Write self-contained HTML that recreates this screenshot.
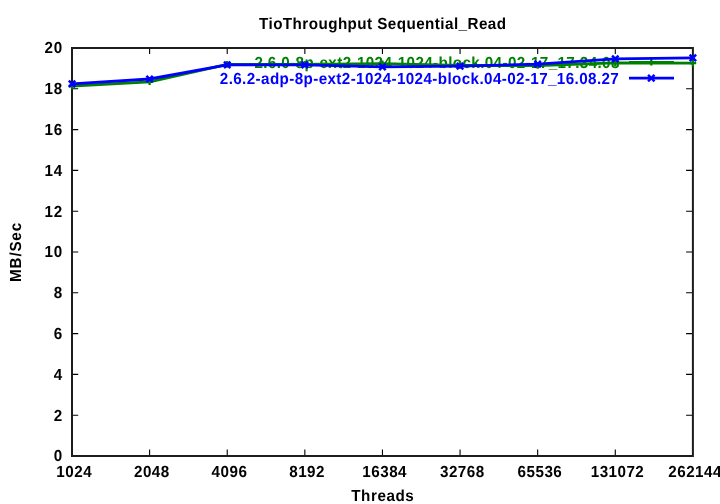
<!DOCTYPE html>
<html><head><meta charset="utf-8"><title>TioThroughput Sequential_Read</title>
<style>
html,body{margin:0;padding:0;background:#fff;width:720px;height:504px;overflow:hidden}
svg{display:block;will-change:transform}
text{font-family:"Liberation Sans",Arial,sans-serif;font-weight:bold;font-size:16px;text-rendering:geometricPrecision;fill:#000}
</style></head>
<body>
<svg width="720" height="504" viewBox="0 0 720 504">
<rect width="720" height="504" fill="#fff"/>
<path d="M149.61 456V449.5M149.61 48V54M227.22 456V449.5M227.22 48V54M304.84 456V449.5M304.84 48V54M382.45 456V449.5M382.45 48V54M460.06 456V449.5M460.06 48V54M537.67 456V449.5M537.67 48V54M615.29 456V449.5M615.29 48V54M72 415.20H78.2M692.9 415.20H686.1M72 374.40H78.2M692.9 374.40H686.1M72 333.60H78.2M692.9 333.60H686.1M72 292.80H78.2M692.9 292.80H686.1M72 252.00H78.2M692.9 252.00H686.1M72 211.20H78.2M692.9 211.20H686.1M72 170.40H78.2M692.9 170.40H686.1M72 129.60H78.2M692.9 129.60H686.1M72 88.80H78.2M692.9 88.80H686.1" stroke="#000" stroke-width="1.1" fill="none"/>
<rect x="72" y="48" width="620.90" height="408" fill="none" stroke="#1c1c1c" stroke-width="2"/>
<text transform="translate(62.30 460.90) scale(0.95 1)" text-anchor="end" textLength="9.37" lengthAdjust="spacing">0</text>
<text transform="translate(62.30 420.90) scale(0.95 1)" text-anchor="end" textLength="9.37" lengthAdjust="spacing">2</text>
<text transform="translate(62.30 379.90) scale(0.95 1)" text-anchor="end" textLength="9.37" lengthAdjust="spacing">4</text>
<text transform="translate(62.30 338.90) scale(0.95 1)" text-anchor="end" textLength="9.37" lengthAdjust="spacing">6</text>
<text transform="translate(62.30 298.00) scale(0.95 1)" text-anchor="end" textLength="9.37" lengthAdjust="spacing">8</text>
<text transform="translate(62.30 257.00) scale(0.95 1)" text-anchor="end" textLength="18.74" lengthAdjust="spacing">10</text>
<text transform="translate(62.30 216.80) scale(0.95 1)" text-anchor="end" textLength="18.74" lengthAdjust="spacing">12</text>
<text transform="translate(62.30 175.80) scale(0.95 1)" text-anchor="end" textLength="18.74" lengthAdjust="spacing">14</text>
<text transform="translate(62.30 135.00) scale(0.95 1)" text-anchor="end" textLength="18.74" lengthAdjust="spacing">16</text>
<text transform="translate(62.30 94.00) scale(0.95 1)" text-anchor="end" textLength="18.74" lengthAdjust="spacing">18</text>
<text transform="translate(62.30 52.90) scale(0.95 1)" text-anchor="end" textLength="18.74" lengthAdjust="spacing">20</text>
<text transform="translate(74.00 476.70) scale(0.95 1)" text-anchor="middle" textLength="37.26" lengthAdjust="spacing">1024</text>
<text transform="translate(151.61 476.70) scale(0.95 1)" text-anchor="middle" textLength="37.26" lengthAdjust="spacing">2048</text>
<text transform="translate(229.22 476.70) scale(0.95 1)" text-anchor="middle" textLength="37.26" lengthAdjust="spacing">4096</text>
<text transform="translate(306.84 476.70) scale(0.95 1)" text-anchor="middle" textLength="37.26" lengthAdjust="spacing">8192</text>
<text transform="translate(384.45 476.70) scale(0.95 1)" text-anchor="middle" textLength="46.58" lengthAdjust="spacing">16384</text>
<text transform="translate(462.06 476.70) scale(0.95 1)" text-anchor="middle" textLength="46.58" lengthAdjust="spacing">32768</text>
<text transform="translate(539.67 476.70) scale(0.95 1)" text-anchor="middle" textLength="46.58" lengthAdjust="spacing">65536</text>
<text transform="translate(617.29 476.70) scale(0.95 1)" text-anchor="middle" textLength="55.89" lengthAdjust="spacing">131072</text>
<text transform="translate(694.90 476.70) scale(0.95 1)" text-anchor="middle" textLength="55.89" lengthAdjust="spacing">262144</text>
<text transform="translate(382.50 28.80) scale(0.95 1)" text-anchor="middle" textLength="260.00" lengthAdjust="spacing">TioThroughput Sequential_Read</text>
<text transform="translate(382.50 501.00) scale(0.95 1)" text-anchor="middle" textLength="65.89" lengthAdjust="spacing">Threads</text>
<text transform="translate(21.40 252.40) rotate(-90) scale(0.95 1)" text-anchor="middle" textLength="62.11" lengthAdjust="spacing">MB/Sec</text>
<text transform="translate(619.40 67.80) scale(0.95 1)" text-anchor="end" textLength="384.21" lengthAdjust="spacing" style="fill:#008000">2.6.0-8p-ext2-1024-1024-block.04-02-17_17.34.08</text>
<path d="M629 62.3H674" stroke="#008000" stroke-width="2.8"/>
<path d="M648.00 62.30L654.60 62.30M651.30 59.00L651.30 65.60" stroke="#008000" stroke-width="2.3" fill="none"/>
<polyline points="72.00,86.00 149.61,81.80 227.22,64.40 304.84,64.30 382.45,63.70 460.06,65.50 537.67,65.50 615.29,62.90 692.90,63.20" stroke="#008000" stroke-width="2.8" fill="none" stroke-linejoin="round"/>
<path d="M68.70 86.00L75.30 86.00M72.00 82.70L72.00 89.30" stroke="#008000" stroke-width="2.3" fill="none"/>
<path d="M146.31 81.80L152.91 81.80M149.61 78.50L149.61 85.10" stroke="#008000" stroke-width="2.3" fill="none"/>
<path d="M223.92 64.40L230.53 64.40M227.22 61.10L227.22 67.70" stroke="#008000" stroke-width="2.3" fill="none"/>
<path d="M301.54 64.30L308.14 64.30M304.84 61.00L304.84 67.60" stroke="#008000" stroke-width="2.3" fill="none"/>
<path d="M379.15 63.70L385.75 63.70M382.45 60.40L382.45 67.00" stroke="#008000" stroke-width="2.3" fill="none"/>
<path d="M456.76 65.50L463.36 65.50M460.06 62.20L460.06 68.80" stroke="#008000" stroke-width="2.3" fill="none"/>
<path d="M534.38 65.50L540.97 65.50M537.67 62.20L537.67 68.80" stroke="#008000" stroke-width="2.3" fill="none"/>
<path d="M611.99 62.90L618.59 62.90M615.29 59.60L615.29 66.20" stroke="#008000" stroke-width="2.3" fill="none"/>
<path d="M689.60 63.20L696.20 63.20M692.90 59.90L692.90 66.50" stroke="#008000" stroke-width="2.3" fill="none"/>
<text transform="translate(618.80 83.70) scale(0.95 1)" text-anchor="end" textLength="420.00" lengthAdjust="spacing" style="fill:#0000ff">2.6.2-adp-8p-ext2-1024-1024-block.04-02-17_16.08.27</text>
<path d="M629 78.2H674" stroke="#0000ff" stroke-width="2.8"/>
<path d="M648.10 74.90L654.50 81.30M648.10 81.30L654.50 74.90" stroke="#0000ff" stroke-width="2.5" fill="none"/>
<polyline points="72.00,83.80 149.61,79.00 227.22,64.80 304.84,64.95 382.45,66.90 460.06,66.10 537.67,64.20 615.29,58.90 692.90,57.90" stroke="#0000ff" stroke-width="2.8" fill="none" stroke-linejoin="round"/>
<path d="M68.80 80.60L75.20 87.00M68.80 87.00L75.20 80.60" stroke="#0000ff" stroke-width="2.5" fill="none"/>
<path d="M146.41 75.80L152.81 82.20M146.41 82.20L152.81 75.80" stroke="#0000ff" stroke-width="2.5" fill="none"/>
<path d="M224.03 61.60L230.42 68.00M224.03 68.00L230.42 61.60" stroke="#0000ff" stroke-width="2.5" fill="none"/>
<path d="M301.64 61.75L308.04 68.15M301.64 68.15L308.04 61.75" stroke="#0000ff" stroke-width="2.5" fill="none"/>
<path d="M379.25 63.70L385.65 70.10M379.25 70.10L385.65 63.70" stroke="#0000ff" stroke-width="2.5" fill="none"/>
<path d="M456.86 62.90L463.26 69.30M456.86 69.30L463.26 62.90" stroke="#0000ff" stroke-width="2.5" fill="none"/>
<path d="M534.47 61.00L540.88 67.40M534.47 67.40L540.88 61.00" stroke="#0000ff" stroke-width="2.5" fill="none"/>
<path d="M612.09 55.70L618.49 62.10M612.09 62.10L618.49 55.70" stroke="#0000ff" stroke-width="2.5" fill="none"/>
<path d="M689.70 54.70L696.10 61.10M689.70 61.10L696.10 54.70" stroke="#0000ff" stroke-width="2.5" fill="none"/>
</svg>
</body></html>
